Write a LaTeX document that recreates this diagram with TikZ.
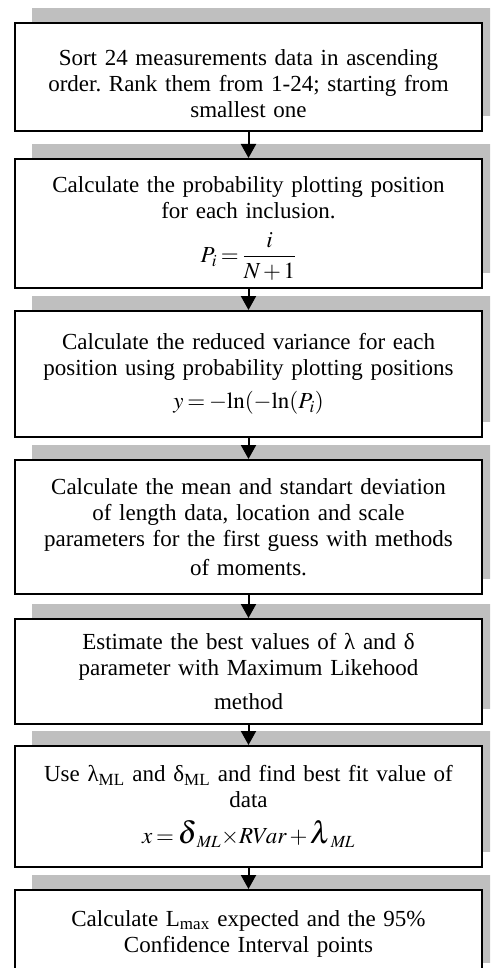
\documentclass[tikz,border=0pt]{standalone}
\usepackage{amsmath}
\usepackage{mathptmx}
\usepackage{fontspec}
\setmainfont{Liberation Serif}
\usetikzlibrary{arrows.meta}
\usetikzlibrary{positioning}
\usetikzlibrary{shadows}
\frenchspacing
\newcommand{\bigsym}[1]{\mbox{\fontsize{31}{31}\selectfont$#1$}}

\begin{document}
\thickmuskip=3mu\relax
\medmuskip=2mu\relax
\begin{tikzpicture}[
		x=1pt,y=1pt,
		->,
		>={Triangle[length=14pt,width=15pt]},
		node distance=21pt,
		line width=2pt,
		stage box/.style={
			draw,
			fill=white,
			minimum width=467pt,
			text width=455pt,
			align=center,
			inner ysep=2pt,
			font=\fontsize{23}{26}\selectfont,
			drop shadow={shadow xshift=17pt,shadow yshift=15pt,fill=black!25,opacity=1}
		}
		]
		\useasboundingbox (0,0) rectangle (490,-968);
		\clip (0,0) rectangle (490,-968);
		
		\node[stage box,minimum height=108pt,anchor=north] (sort) at (248.5,-22) {\rule{0pt}{29pt}Sort 24 measurements data in ascending\\order. Rank them from 1-24; starting from\\smallest one};
		\node[stage box,minimum height=129pt] (prob) [below=26pt of sort] {\rule{0pt}{26pt}Calculate the probability plotting position\\for each inclusion.\\[12pt]$P_{i}=\dfrac{i}{N+1}$};
		\node[stage box,minimum height=126pt] (redvar) [below=of prob] {Calculate the reduced variance for each\\position using probability plotting positions\\[7pt]$y=-\mathrm{ln}(-\mathrm{ln}(P_{i})$\\[22pt]};
		\node[stage box,minimum height=134pt] (moments) [below=of redvar] {Calculate the mean and standart deviation\\of length data, location and scale\\parameters for the first guess with methods\\[3pt]of moments.};
		\node[stage box,minimum height=105pt] (mlik) [below=23pt of moments] {Estimate the best values of λ and δ\\parameter with Maximum Likehood\\[8pt]method};
		\node[stage box,minimum height=121pt] (fit) [below=20pt of mlik] {Use λ\textsubscript{ML} and δ\textsubscript{ML} and find best fit value of\\data\\[10pt]$x=\bigsym{\delta}_{\mathit{ML}}\!\times\! RVar+\bigsym{\lambda}_{\mathit{ML}}$};
		\node[stage box,minimum height=88pt] (lmax) [below=of fit] {Calculate L\textsubscript{max} expected and the 95\%\\Confidence Interval points};
		
		\path
		(sort) edge (prob)
		(prob) edge (redvar)
		(redvar) edge (moments)
		(moments) edge (mlik)
		(mlik) edge (fit)
		(fit) edge (lmax);
	\end{tikzpicture}
\end{document}
